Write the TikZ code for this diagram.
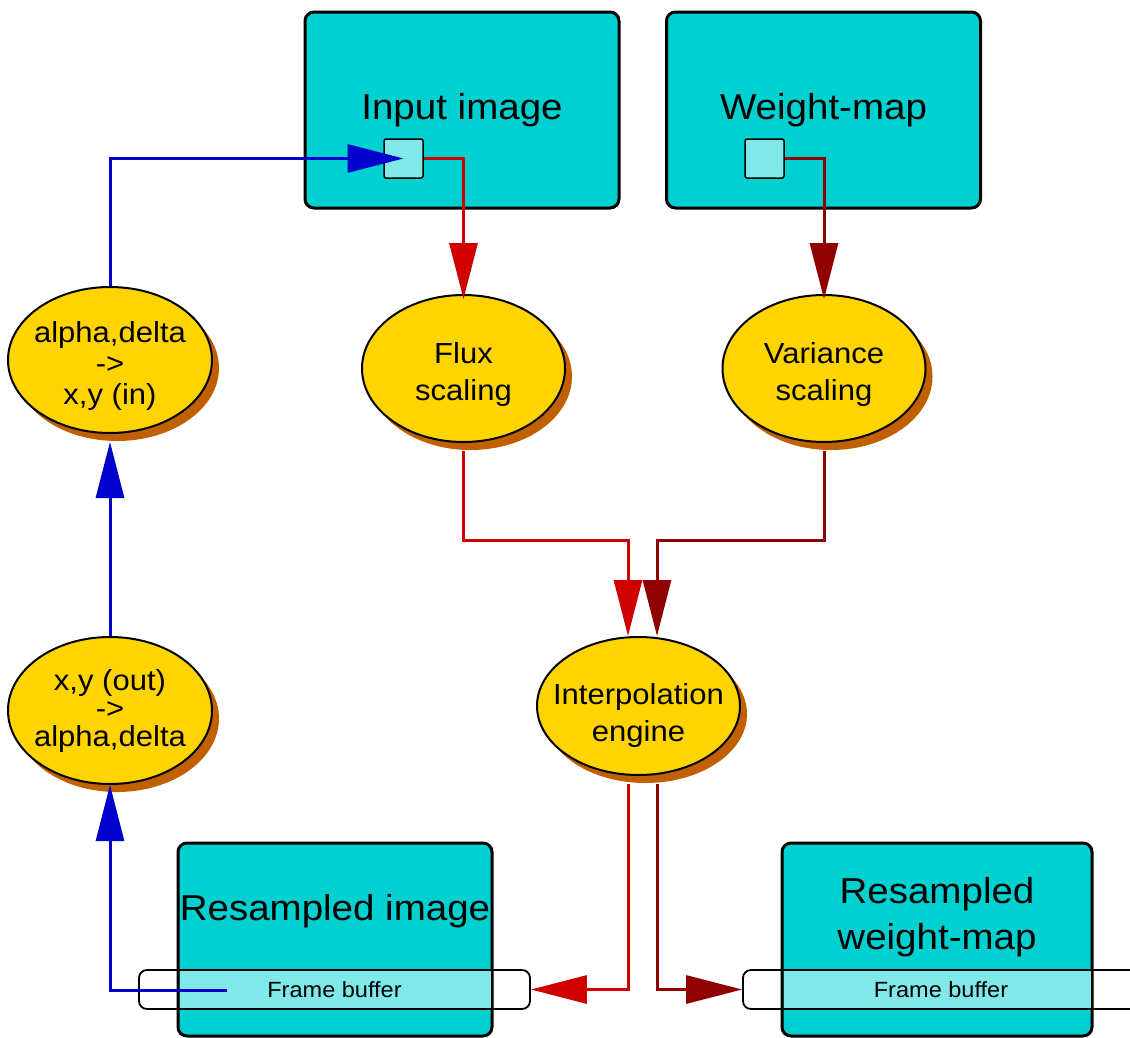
\documentclass[tikz,border=0pt]{standalone}
\usepackage{fontspec}
\setmainfont[FakeStretch=1.07]{Liberation Sans}
\usetikzlibrary{arrows.meta,shapes.geometric,shadows}
\definecolor{boxc}{RGB}{0,208,208}
\definecolor{lightc}{RGB}{128,232,232}
\definecolor{ellc}{RGB}{255,212,0}
\definecolor{shadc}{RGB}{192,96,0}
\definecolor{bluec}{RGB}{0,0,204}
\definecolor{redc}{RGB}{208,0,0}
\definecolor{dredc}{RGB}{144,0,0}
\tikzset{
  bigbox/.style={draw=black,line width=3pt,fill=boxc,rounded corners=9pt,
    minimum width=314pt,minimum height=196pt,inner sep=0pt,outer sep=0pt,
    font=\fontsize{36}{44}\selectfont,align=center},
  smallsq/.style={draw=black,line width=1.5pt,fill=lightc,rounded corners=2pt,
    minimum size=39pt,inner sep=0pt},
  ell/.style={ellipse,draw=black,line width=2pt,fill=ellc,inner sep=0pt,
    drop shadow={shadow xshift=7pt,shadow yshift=-8pt,fill=shadc,opacity=1,draw=none}},
  etext/.style={align=center,inner sep=0pt},
  fbuf/.style={draw=black,line width=1.8pt,rounded corners=8pt,minimum height=39pt,
    inner sep=0pt,font=\fontsize{22}{26}\selectfont},
  bigtext/.style={align=center,inner sep=0pt,font=\fontsize{36}{46}\selectfont},
  tip/.style={-{Triangle[length=56pt,width=28pt]}},
  blueline/.style={tip,draw=bluec,line width=3pt},
  redline/.style={tip,draw=redc,line width=3pt},
  dredline/.style={tip,draw=dredc,line width=3pt},
}
\begin{document}
\begin{tikzpicture}[x=1pt,y=-1pt]
\useasboundingbox (0,0) rectangle (1130,1037);
% top boxes
\node[bigbox] (inbox) at (462,110) {Input image};
\node[bigbox] (wbox) at (823.5,110) {Weight-map};
\node[smallsq] (sq1) at (403.5,158.5) {};
\node[smallsq] (sq2) at (764.5,158.5) {};
% ellipses
\node[ell,minimum width=204pt,minimum height=146pt] (ad) at (110,360) {};
\node[etext,font=\fontsize{29}{31}\selectfont] (adt) at (110,366) {alpha,delta\\->\\x,y (in)};
\node[ell,minimum width=203pt,minimum height=147pt] (flux) at (463.5,368.5) {};
\node[etext,font=\fontsize{29}{37}\selectfont] (fluxt) at (463.5,374) {Flux\\scaling};
\node[ell,minimum width=203pt,minimum height=147pt] (var) at (824,368.5) {};
\node[etext,font=\fontsize{29}{37}\selectfont] (vart) at (824,374) {Variance\\scaling};
\node[ell,minimum width=204pt,minimum height=147pt] (xyout) at (110,710.5) {};
\node[etext,font=\fontsize{29}{28}\selectfont] (xyoutt) at (110,711) {x,y (out)\\->\\alpha,delta};
\node[ell,minimum width=203pt,minimum height=138pt] (interp) at (638.5,706) {};
\node[etext,font=\fontsize{29}{37}\selectfont] (interpt) at (638.5,715) {Interpolation\\engine};
% bottom boxes
\coordinate (fbtop) at (0,970);
\coordinate (fbbot) at (0,1009);
\node[bigbox,minimum height=193pt] (rbox1) at (335,939.5) {};
\fill[lightc] ([xshift=1.5pt]rbox1.west |- fbtop) rectangle ([xshift=-1.5pt]rbox1.east |- fbbot);
\node[bigtext] (rbox1t) at (335,911.5) {Resampled image};
\node[fbuf,minimum width=391pt] (fb1) at (334.5,989.5) {Frame buffer};
\node[bigbox,minimum width=310pt,minimum height=193pt] (rbox2) at (937,939.5) {};
\fill[lightc] ([xshift=1.5pt]rbox2.west |- fbtop) rectangle ([xshift=-1.5pt]rbox2.east |- fbbot);
\node[bigtext] (rbox2t) at (937,917) {Resampled\\weight-map};
\node[fbuf,minimum width=400pt] (fb2) at (943,989.5) {};
\node[inner sep=0pt,font=\fontsize{22}{26}\selectfont] (fbt2) at (941,989.5) {Frame buffer};
% connectors
\coordinate (j1) at (545,540);
\coordinate (j2) at (740,540);
\coordinate (fbsrc) at (227,990);
\draw[blueline] (ad.north) |- (sq1.center);
\draw[redline] (sq1.east) -| ([yshift=-5pt]flux.north);
\draw[dredline] (sq2.east) -| ([yshift=-5pt]var.north);
\draw[redline] ([yshift=-8pt]flux.south) |- (j1) -| ([xshift=-10.5pt]interp.north);
\draw[dredline] ([yshift=-8pt]var.south) |- (j2) -| ([xshift=18.5pt]interp.north);
\draw[redline] ([xshift=-10.5pt,yshift=-8pt]interp.south) |- (fb1.east);
\draw[dredline] ([xshift=18.5pt,yshift=-8pt]interp.south) |- (fb2.west);
\draw[blueline] (fbsrc) -| (xyout.south);
\draw[blueline] (xyout.north) -- ([yshift=-8pt]ad.south);
\end{tikzpicture}
\end{document}
